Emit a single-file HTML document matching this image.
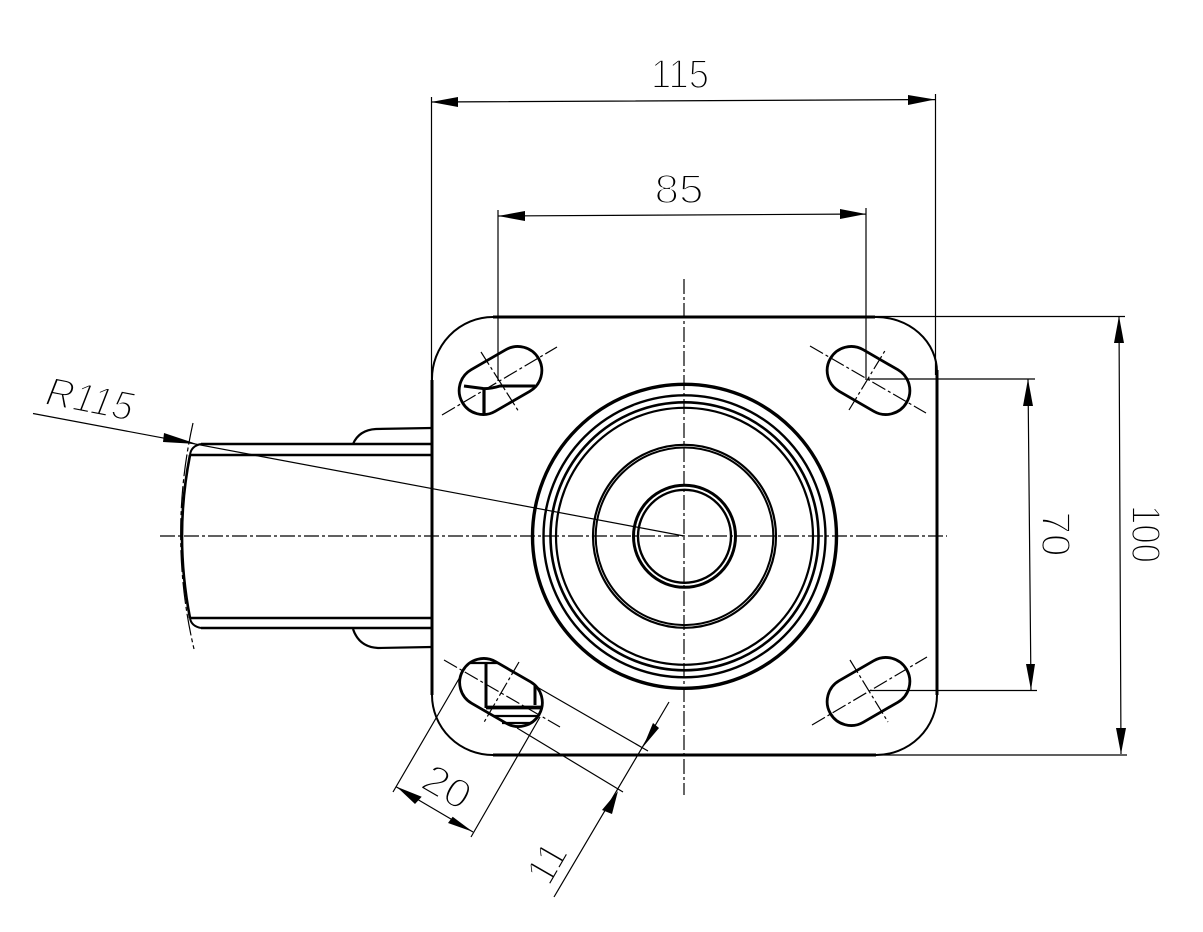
<!DOCTYPE html>
<html><head><meta charset="utf-8"><style>
html,body{margin:0;padding:0;background:#fff}
svg{display:block}
text{font-family:"Liberation Sans",sans-serif;font-size:41px;fill:#000;stroke:#fff;stroke-width:1.9px;text-anchor:middle}
</style></head><body>
<svg width="1203" height="932" viewBox="0 0 1203 932" xmlns="http://www.w3.org/2000/svg">
<rect width="1203" height="932" fill="#fff"/>
<!-- circles -->
<g fill="none" stroke="#000">
<circle cx="684.5" cy="536.3" r="152" stroke-width="3.4"/>
<circle cx="684.5" cy="536.3" r="141" stroke-width="2.4"/>
<circle cx="684.5" cy="536.3" r="134" stroke-width="2.6"/>
<circle cx="684.5" cy="536.3" r="128.5" stroke-width="2.2"/>
<circle cx="684.5" cy="536.3" r="91.5" stroke-width="2.2"/>
<circle cx="684.5" cy="536.3" r="88.8" stroke-width="2"/>
<circle cx="684.5" cy="536.3" r="51" stroke-width="3"/>
<circle cx="684.5" cy="536.3" r="46.5" stroke-width="2.4"/>
<!-- plate -->
<path d="M493 317H875M493 755H876M432 380V695M937 370V695" stroke-width="3"/>
<path d="M493 317A61 62 0 0 0 432 380M875 317A61 55 0 0 1 937 372M432 695A61 60 0 0 0 493 755M937 695A61 60 0 0 1 876 755" stroke-width="2"/>
<!-- slots -->
<g stroke-width="2.8">
<rect x="-44" y="-24" width="88" height="48" rx="24" transform="translate(500.5 380.5) rotate(-30)"/>
<rect x="-44" y="-24" width="88" height="48" rx="24" transform="translate(868.5 380.5) rotate(30)"/>
<rect x="-44" y="-24" width="88" height="48" rx="24" transform="translate(501 692.5) rotate(30)"/>
<rect x="-44" y="-24" width="88" height="48" rx="24" transform="translate(868.5 691.5) rotate(-30)"/>
</g>
<!-- slot inner details -->
<path d="M464 386L483 388.500Q490 389 500 386H535" stroke-width="3"/>
<path d="M484 388V415" stroke-width="3.2"/>
<path d="M486 662V708M535 685V705" stroke-width="3"/>
<path d="M470 663H498" stroke-width="2.2"/>
<path d="M486 707.500H542" stroke-width="3.800"/>
<path d="M493 716H537M502 723H530" stroke-width="2.200"/>
<!-- wheel side -->
<path d="M201 444H432M190 455H432M190 618H432M201 628H432" stroke-width="2.6"/>
<path d="M190 455Q191 446 201 444M190 618Q191 626 201 628" stroke-width="2"/>
<path d="M190 455Q174 536 190 618" stroke-width="2.6"/>
<path d="M353 444Q359 430 376 429L432 428M353 629Q359 647 378 648L432 647" stroke-width="2.2"/>
</g>
<path d="M193 423A504 504 0 0 0 194 649" fill="none" stroke="#000" stroke-width="1.2" stroke-dasharray="22 3 4 3"/>
<!-- centre lines -->
<g fill="none" stroke="#000" stroke-width="1.2" stroke-dasharray="15 3 3 3">
<path d="M160 536H947M684 279V795"/>
<path d="M442 415L557 347M481 352L519 412"/>
<path d="M810 346L926 413M849 410L886 349"/>
<path d="M444 660L560 727M519 662L483 724"/>
<path d="M812 725L927 657M850 660L888 722"/>
</g>
<!-- dimension lines -->
<g fill="none" stroke="#000" stroke-width="1.2">
<path d="M431 102L935 99.500M431.500 97V380M935.500 94V375"/>
<path d="M498 216L866 214M498 210V381M866 208V380"/>
<path d="M875 316.500H1125M876 755H1127M1119 316L1121 754"/>
<path d="M868 379H1035M870 690.500H1037M1028 379L1031 690"/>
<path d="M33 413.500L684 536"/>
<path d="M396.500 787L473 832M460 677L393 792M540 717L471 837"/>
<path d="M554 897L669 702M537 687L648 751M517 728L623 792"/>
</g>
<!-- arrowheads -->
<g fill="#000">
<polygon points="431,102 458,97 458,107"/>
<polygon points="935,99.500 908,95 908,105"/>
<polygon points="498,216 525,211 525,221"/>
<polygon points="866,214 840,209 840,219"/>
<polygon points="1119,316 1114,343 1124,343"/>
<polygon points="1121,754 1116,728 1126,728"/>
<polygon points="1028,379 1023,406 1033,406"/>
<polygon points="1031,690 1026,664 1035,664"/>
<polygon points="197,444 164,433 163,442"/>
<polygon points="396.700,786.700 421.700,796.700 415,804"/>
<polygon points="472.700,831.700 452.700,816.700 448,823"/>
<polygon points="643,747 653,723 659,728"/>
<polygon points="618,791 602,810 612,814"/>
</g>
<!-- labels -->
<text x="680" y="88" textLength="58" lengthAdjust="spacingAndGlyphs">115</text>
<text x="679" y="203" textLength="49" lengthAdjust="spacingAndGlyphs">85</text>
<text transform="translate(1056 534) rotate(90)" x="0" y="14" textLength="45" lengthAdjust="spacingAndGlyphs">70</text>
<text transform="translate(1146 534) rotate(90)" x="0" y="14" textLength="58" lengthAdjust="spacingAndGlyphs">100</text>
<text transform="translate(90 399) rotate(11)" x="0" y="14" textLength="88" lengthAdjust="spacingAndGlyphs" font-style="italic">R115</text>
<text transform="translate(447 787) rotate(30)" x="0" y="14" textLength="49" lengthAdjust="spacingAndGlyphs">20</text>
<text transform="translate(547 863) rotate(-60)" x="0" y="14" textLength="40" lengthAdjust="spacingAndGlyphs">11</text>
</svg>
</body></html>
